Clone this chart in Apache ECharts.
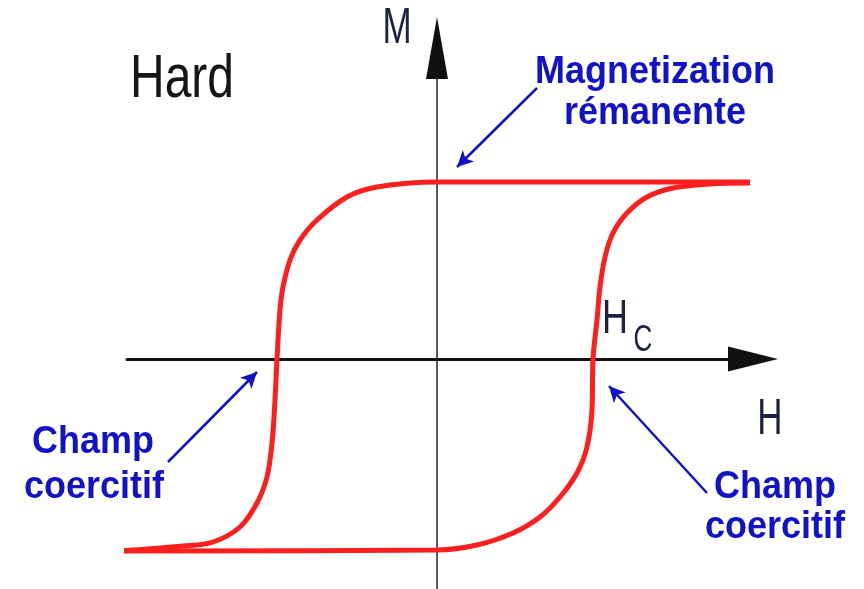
<!DOCTYPE html>
<html>
<head>
<meta charset="utf-8">
<title>Hard - hysteresis</title>
<script src="https://cdn.jsdelivr.net/npm/echarts@6/dist/echarts.min.js"></script>
<style>
  html, body { margin: 0; padding: 0; background: #fff; }
  #main { width: 864px; height: 589px; }
</style>
</head>
<body>
<div id="main"></div>
<script>
// branche descendante (H, M), de la saturation positive vers la saturation negative
const upperBranch = [
  [3.13, 1.77], [0, 1.77], [-0.60, 1.72], [-0.90, 1.62], [-1.20, 1.39],
  [-1.37, 1.19], [-1.47, 0.99], [-1.54, 0.72], [-1.57, 0.49], [-1.60, 0],
  [-1.62, -0.41], [-1.65, -0.84], [-1.70, -1.18], [-1.80, -1.44],
  [-1.97, -1.68], [-2.24, -1.83], [-2.54, -1.87], [-3.17, -1.92]
]

// branche montante
const lowerBranch = [
  [-3.17, -1.92], [0, -1.91], [0.40, -1.86], [0.76, -1.74], [1.03, -1.58],
  [1.23, -1.38], [1.40, -1.14], [1.50, -0.88], [1.55, -0.51], [1.56, 0],
  [1.60, 0.39], [1.63, 0.72], [1.68, 1.02], [1.76, 1.26], [1.90, 1.46],
  [2.10, 1.62], [2.36, 1.71], [2.73, 1.75], [3.13, 1.76]
]

// fleches d'annotation : [depart, pointe]
const arrowRemanence = [[1.00, 2.71], [0.20, 1.92]]
const arrowCoerciveLeft = [[-2.69, -1.03], [-1.80, -0.13]]
const arrowCoerciveRight = [[2.70, -1.34], [1.72, -0.27]]

const xRange = [-3.10, 3.16]
const yRange = [-2.30, 3.11]

const blue = '#1212c8'
const red = '#ff1e1e'
const ink = '#1c2240'

const chart = echarts.init(document.getElementById('main'), null, { renderer: 'canvas' })

function arrowLine(pair) {
  return [{ coord: pair[0] }, { coord: pair[1] }]
}

function blueLabel(text, x, y) {
  return {
    type: 'text', x: x, y: y, scaleY: 1.06, z: 10,
    style: {
      text: text, fill: blue, align: 'center', verticalAlign: 'middle',
      fontFamily: 'Liberation Sans, Arial, sans-serif', fontWeight: 'bold', fontSize: 36
    }
  }
}

function plainLabel(text, x, y, size, sy, color) {
  return {
    type: 'text', x: x, y: y, scaleY: sy, z: 10,
    style: {
      text: text, fill: color, align: 'center', verticalAlign: 'middle',
      fontFamily: 'Liberation Sans, Arial, sans-serif', fontSize: size
    }
  }
}

const option = {
  animation: false,
  backgroundColor: '#fff',
  grid: { left: 127, right: 111, top: 48, bottom: 0 },
  xAxis: {
    type: 'value', min: xRange[0], max: xRange[1],
    axisLine: {
      show: true, onZero: true,
      symbol: ['none', 'triangle'], symbolSize: [25, 50],
      lineStyle: { color: '#111', width: 3 }
    },
    axisTick: { show: false }, axisLabel: { show: false }, splitLine: { show: false }
  },
  yAxis: {
    type: 'value', min: yRange[0], max: yRange[1],
    axisLine: {
      show: true, onZero: true,
      symbol: 'none',
      lineStyle: { color: '#5a5a5a', width: 2 }
    },
    axisTick: { show: false }, axisLabel: { show: false }, splitLine: { show: false }
  },
  series: [
    {
      name: 'descente', type: 'line', data: upperBranch, smooth: 0.35,
      showSymbol: false, clip: false, z: 1,
      lineStyle: { color: red, width: 5 }
    },
    {
      name: 'montee', type: 'line', data: lowerBranch, smooth: 0.35,
      showSymbol: false, clip: false, z: 1,
      lineStyle: { color: red, width: 5 }
    },
    {
      name: 'annotations', type: 'line', data: [], z: 5,
      // pointe noire de l'axe M
      markPoint: {
        silent: true, animation: false,
        symbol: 'triangle', symbolSize: [22, 62],
        itemStyle: { color: '#111' },
        label: { show: false },
        data: [{ coord: [0, yRange[1]] }]
      },
      markLine: {
        silent: true, animation: false,
        symbol: ['none', 'arrow'], symbolSize: [12, 16],
        label: { show: false },
        lineStyle: { color: blue, width: 2.5, type: 'solid' },
        data: [arrowLine(arrowRemanence), arrowLine(arrowCoerciveLeft), arrowLine(arrowCoerciveRight)]
      }
    }
  ],
  graphic: [
    plainLabel('Hard', 182, 80, 48, 1.27, '#151515'),
    plainLabel('M', 397, 29, 35, 1.45, ink),
    plainLabel('H', 770, 420, 35, 1.42, ink),
    plainLabel('H', 615, 320, 36, 1.36, ink),
    plainLabel('C', 643, 341, 26, 1.45, ink),
    blueLabel('Magnetization', 655, 72),
    blueLabel('rémanente', 655, 113),
    blueLabel('Champ', 93, 442),
    blueLabel('coercitif', 94, 487),
    blueLabel('Champ', 775, 487),
    blueLabel('coercitif', 775, 527)
  ]
}

chart.setOption(option)
</script>
</body>
</html>
